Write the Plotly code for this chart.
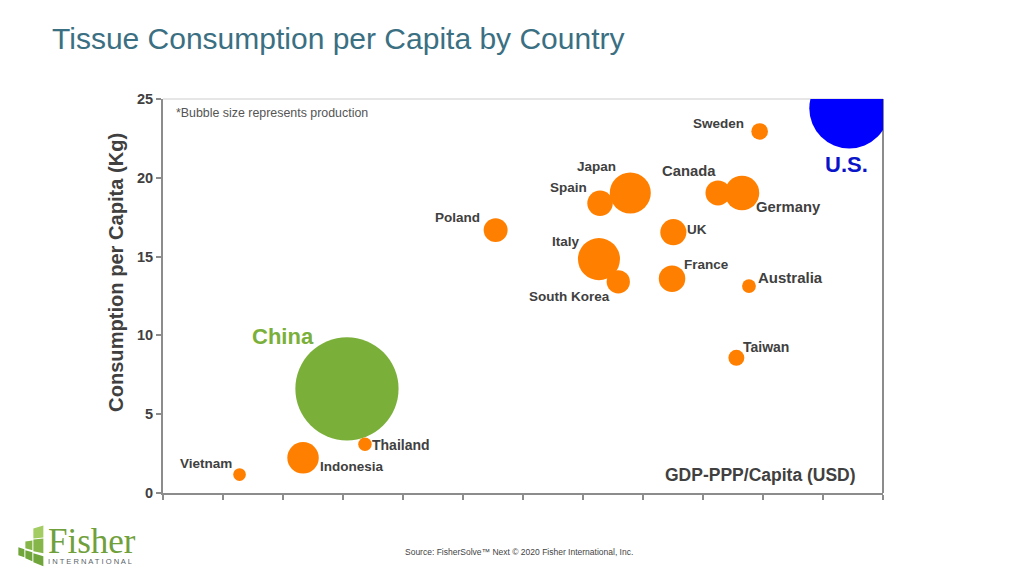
import plotly.graph_objects as go

countries = ["China", "U.S.", "Sweden", "Japan", "Spain", "Canada", "Germany", "UK", "Italy",
             "South Korea", "France", "Australia", "Poland", "Taiwan", "Thailand", "Indonesia", "Vietnam"]
gdp_ppp = [15330, 57190, 49720, 38940, 36420, 46250, 48250, 42530, 36330,
           37940, 42420, 48830, 27720, 47780, 16830, 11670, 6380]
consumption = [6.61, 24.4, 22.94, 19.04, 18.39, 19.04, 19.04, 16.55, 14.84,
               13.4, 13.6, 13.13, 16.68, 8.58, 3.09, 2.23, 1.17]
production = [10.0, 6.0, 0.26, 1.58, 0.61, 0.59, 1.12, 0.64, 1.66,
              0.51, 0.66, 0.18, 0.54, 0.24, 0.17, 0.93, 0.15]
y_ticks = [0, 5, 10, 15, 20, 25]
x_ticks = [5000 * i for i in range(13)]

ORANGE = "#FF8000"
GREEN = "#7AB03A"
BLUE = "#0000FF"
TEXT = "#404040"
AXIS = "#8C8C8C"
SANS = "Liberation Sans"

PLOT_L, PLOT_R, PLOT_T, PLOT_B = 162.7, 883.0, 98.5, 493.5


def fx(px):
    return (px - PLOT_L) / (PLOT_R - PLOT_L)


def fy(py):
    return (PLOT_B - py) / (PLOT_B - PLOT_T)


bubble_colors = [GREEN if c == "China" else BLUE if c == "U.S." else ORANGE for c in countries]

# label offset from bubble centre (px, right / down), font size, colour
label_style = {
    "China": (-64, -52, 22, GREEN),
    "U.S.": (-3, 56, 22, "#0A14C8"),
    "Sweden": (-41, -8, 13.5, TEXT),
    "Japan": (-34, -26, 13.5, TEXT),
    "Spain": (-32, -16, 13.5, TEXT),
    "Canada": (-29, -22, 14.8, TEXT),
    "Germany": (46, 14, 14.8, TEXT),
    "UK": (24, -3, 13.5, TEXT),
    "Italy": (-33, -18, 13.5, TEXT),
    "South Korea": (-49, 15, 13.5, TEXT),
    "France": (34, -14, 13.5, TEXT),
    "Australia": (42, -9, 15, TEXT),
    "Poland": (-38, -13, 13.5, TEXT),
    "Taiwan": (30, -11, 14, TEXT),
    "Thailand": (36, 1, 14, TEXT),
    "Indonesia": (49, 9, 13.5, TEXT),
    "Vietnam": (-34, -11, 13.5, TEXT),
}

fig = go.Figure(go.Scatter(
    x=gdp_ppp, y=consumption, mode="markers", text=countries,
    marker=dict(size=production, sizemode="area", sizeref=0.001878, color=bubble_colors,
                opacity=1, line=dict(width=0)),
    showlegend=False, hoverinfo="text",
))

annotations = []
for c, x, y in zip(countries, gdp_ppp, consumption):
    dx, dy, size, color = label_style[c]
    annotations.append(dict(x=x, y=y, xref="x", yref="y", text=f"<b>{c}</b>", showarrow=False,
                            xshift=dx, yshift=-dy, xanchor="center", yanchor="middle",
                            font=dict(family=SANS, size=size, color=color)))


def page_text(text, px, py, size, color, family=SANS, anchor="left", angle=0, height=None):
    return dict(x=fx(px), y=fy(py), xref="paper", yref="paper", text=text, showarrow=False,
                xanchor=anchor, yanchor="middle", textangle=angle, height=height,
                font=dict(family=family, size=size, color=color))


annotations += [
    page_text("Tissue Consumption per Capita by Country", 50, 38, 30, "#3B6F82"),
    page_text("*Bubble size represents production", 174, 113, 12.4, "#555555"),
    page_text("<b>GDP-PPP/Capita (USD)</b>", 663, 475, 17.5, TEXT),
    page_text("<b>Consumption per Capita (Kg)</b>", 115, 272.5, 20.1, TEXT, anchor="center", angle=-90),
    page_text("Source: FisherSolve™ Next © 2020 Fisher International, Inc.", 403, 553, 8.5, "#444444"),
    page_text("Fisher", 45.5, 542, 35, "#6FA03C", family="Liberation Serif", height=26),
    page_text("I N T E R N A T I O N A L", 46, 562, 7.6, "#5A6468", height=9),
]

shapes = [
    dict(type="line", xref="paper", yref="paper", x0=0, x1=1, y0=1, y1=1, layer="below",
         line=dict(color="#E6E6E6", width=2)),
    dict(type="line", xref="paper", yref="paper", x0=1, x1=1, y0=0, y1=1, layer="below",
         line=dict(color=AXIS, width=2)),
]

# Logo blocks as page-pixel polygons with their tints
logo_blocks = [
    ([(18, 548), (24, 550), (24, 558), (18, 556)], "#6FA53A"),
    ([(25, 551), (32, 553), (32, 562), (25, 559)], "#6FA53A"),
    ([(33, 554), (43, 557), (43, 567), (33, 563)], "#6FA53A"),
    ([(25, 542), (32, 541), (32, 551), (25, 549)], "#86B64A"),
    ([(33, 540), (43, 539), (43, 554), (33, 552)], "#86B64A"),
    ([(33, 529), (43, 526), (43, 538), (33, 539)], "#A3CC62"),
]
for block, tint in logo_blocks:
    path = "M " + " L ".join(f"{fx(px):.5f},{fy(py):.5f}" for px, py in block) + " Z"
    shapes.append(dict(type="path", xref="paper", yref="paper", path=path,
                       fillcolor=tint, line=dict(width=0), layer="above"))

fig.update_layout(
    width=1024, height=576, autosize=False,
    margin=dict(l=PLOT_L, r=1024 - PLOT_R, t=PLOT_T, b=576 - PLOT_B, pad=0),
    paper_bgcolor="white", plot_bgcolor="white",
    xaxis=dict(range=[0, 60000], tickvals=x_ticks, ticks="outside", ticklen=5, tickwidth=1.5,
               tickcolor=AXIS, showticklabels=False, showgrid=False, zeroline=False,
               showline=True, linecolor=AXIS, linewidth=2),
    yaxis=dict(range=[0, 25], tickvals=y_ticks, ticks="outside", ticklen=5, tickwidth=1.5,
               tickcolor=AXIS, showgrid=False, zeroline=False, showline=True,
               linecolor=AXIS, linewidth=2,
               tickfont=dict(family=SANS, size=14.5, color=TEXT, weight="bold")),
    annotations=annotations, shapes=shapes,
)

fig.write_html("out.html", config={"displayModeBar": False},
               post_script="document.body.style.margin='0';")
